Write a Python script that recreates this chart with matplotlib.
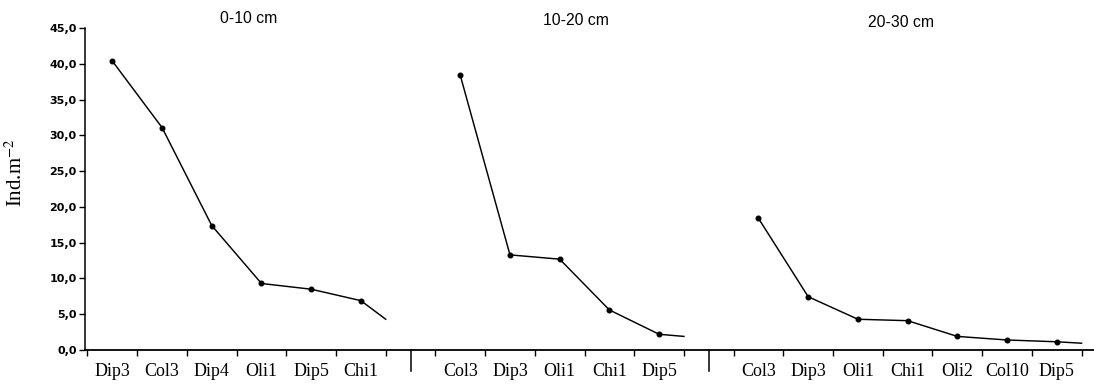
import matplotlib
matplotlib.use('Agg')
import matplotlib.pyplot as plt
from matplotlib.ticker import FuncFormatter

plt.rcParams['mathtext.fontset'] = 'stix'

# densities (ind. m-2) per taxon, sorted, for each soil layer
depths = ['0-10 cm', '10-20 cm', '20-30 cm']

taxa_0_10 = ['Dip3', 'Col3', 'Dip4', 'Oli1', 'Dip5', 'Chi1']
dens_0_10 = [40.4, 31.1, 17.4, 9.3, 8.5, 6.9]
tail_0_10 = 4.3

taxa_10_20 = ['Col3', 'Dip3', 'Oli1', 'Chi1', 'Dip5']
dens_10_20 = [38.4, 13.3, 12.7, 5.6, 2.2]
tail_10_20 = 1.9

taxa_20_30 = ['Col3', 'Dip3', 'Oli1', 'Chi1', 'Oli2', 'Col10', 'Dip5']
dens_20_30 = [18.4, 7.45, 4.3, 4.1, 1.9, 1.4, 1.15]
tail_20_30 = 0.95

taxa = [taxa_0_10, taxa_10_20, taxa_20_30]
dens = [dens_0_10, dens_10_20, dens_20_30]
tails = [tail_0_10, tail_10_20, tail_20_30]

fig = plt.figure(figsize=(10.94, 3.85), dpi=100)
ax = fig.add_axes([0.0777, 0.0909, 0.9223, 0.836])

label_pos, label_txt, seps = [], [], []
start = 0
for i in range(3):
    n = len(dens[i])
    xs = list(range(start, start + n))
    # line runs half a category past the last point
    ax.plot(xs + [xs[-1] + 0.5], dens[i] + [tails[i]], color='black', linewidth=1.05)
    ax.plot(xs, dens[i], 'o', color='black', markersize=3.3)
    label_pos += xs
    label_txt += taxa[i]
    if i < 2:
        seps.append(start + n)
    start += n + 1

# panel titles
title_x = [2.75, 9.32, 15.87]
title_y = [46.3, 46.0, 45.8]
for t, tx, ty in zip(depths, title_x, title_y):
    ax.text(tx, ty, t, ha='center', va='center', fontsize=11.3,
            family='Liberation Sans', clip_on=False)

# long ticks separating the layers
for s in seps:
    ax.plot([s, s], [0, -2.9], color='black', linewidth=1.1, clip_on=False)

ax.set_xlim(-0.55, 19.75)
ax.set_ylim(0, 45)
ax.set_yticks(range(0, 46, 5))
ax.yaxis.set_major_formatter(FuncFormatter(lambda v, p: f'{v:.1f}'.replace('.', ',')))
for lab in ax.get_yticklabels():
    lab.set_family('DejaVu Sans')
    lab.set_fontweight('bold')
    lab.set_fontsize(8)
ax.tick_params(axis='y', length=4, width=1, pad=2)

ax.set_xticks(label_pos, label_txt, fontsize=13, family='Liberation Serif')
ax.tick_params(axis='x', which='major', length=0, pad=9)
ax.set_xticks([p - 0.5 for p in range(0, 21)], minor=True)
ax.tick_params(axis='x', which='minor', length=4.5, width=1)

ax.spines['top'].set_visible(False)
ax.spines['right'].set_visible(False)
ax.spines['left'].set_linewidth(1.1)
ax.spines['bottom'].set_linewidth(1.3)

ax.set_ylabel(r'Ind.m$^{-2}$', fontsize=15, family='Liberation Serif')
ax.yaxis.set_label_coords(-0.058, 0.55)

fig.savefig('out.png', dpi=100)
